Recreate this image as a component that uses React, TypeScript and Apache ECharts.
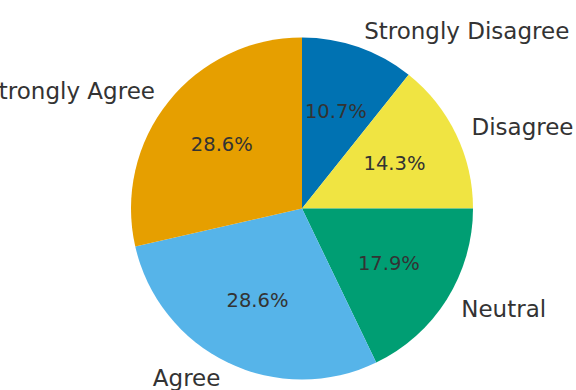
import React, { useEffect, useRef } from "react";
import * as echarts from "echarts";

const categories = ["Strongly Disagree", "Disagree", "Neutral", "Agree", "Strongly Agree"];
const counts = [3, 4, 5, 8, 8];
const colors = ["#0072B2", "#F0E442", "#009E73", "#56B4E9", "#E69F00"];

const R = 171;
const CENTER = [302, 208.5];

export default function App() {
  const ref = useRef<HTMLDivElement>(null);
  useEffect(() => {
    if (!ref.current) return;
    const chart = echarts.init(ref.current, undefined, { renderer: "svg" });
    const total = counts.reduce((a, b) => a + b, 0);
    const data = categories.map((name, i) => ({
      name,
      value: counts[i],
      itemStyle: { color: colors[i] },
    }));
    chart.setOption({
      animation: false,
      backgroundColor: "#ffffff",
      series: [
        {
          type: "pie",
          center: CENTER,
          radius: [0, R],
          startAngle: 90,
          clockwise: true,
          avoidLabelOverlap: false,
          silent: true,
          data,
          label: {
            show: true,
            position: "outside",
            formatter: "{b}",
            fontFamily: "DejaVu Sans",
            fontSize: 23,
            color: "#333333",
            distanceToLabelLine: 0,
          },
          labelLine: { show: false, length: R * 0.1, length2: 0 },
          emphasis: { disabled: true },
        },
        {
          type: "pie",
          center: CENTER,
          radius: [R * 0.2 - 6, R],
          startAngle: 90,
          clockwise: true,
          avoidLabelOverlap: false,
          silent: true,
          data: categories.map((name, i) => ({
            name,
            value: counts[i],
            itemStyle: { color: "rgba(0,0,0,0)" },
          })),
          label: {
            show: true,
            position: "inside",
            formatter: (p: any) => ((p.value / total) * 100).toFixed(1) + "%",
            fontFamily: "DejaVu Sans",
            fontSize: 19.5,
            color: "#333333",
          },
          labelLine: { show: false },
          emphasis: { disabled: true },
        },
      ],
    });
    return () => chart.dispose();
  }, []);
  return (
    <div
      ref={ref}
      style={{ position: "fixed", left: 0, top: 0, width: 576, height: 390 }}
    />
  );
}
